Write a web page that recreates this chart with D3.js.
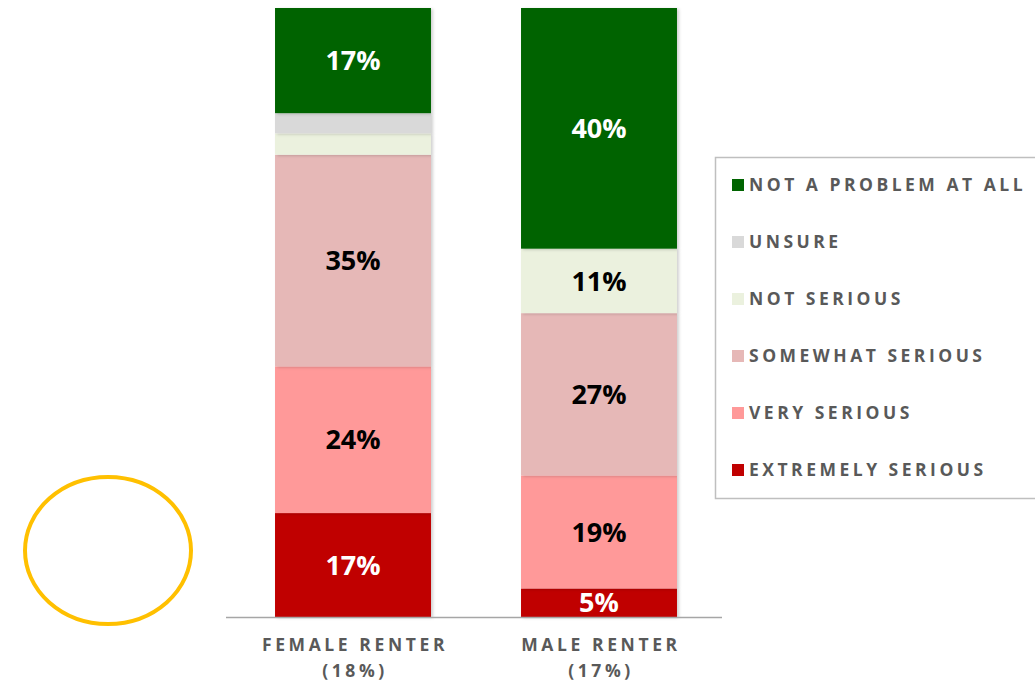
<!DOCTYPE html>
<html>
<head>
<meta charset="utf-8">
<script src="https://cdn.jsdelivr.net/npm/d3@7"></script>
<style>
  body { margin: 0; background: #fff; }
  svg { display: block; }
  text { font-family: "Open Sans", Lato, sans-serif; font-weight: bold; }
</style>
</head>
<body>
<div id="chart"></div>
<script>
// categories on the x axis
const groups = ["FEMALE RENTER", "MALE RENTER"];
const groupShares = ["(18%)", "(17%)"];

// response levels, bottom of the stack first
const levels = ["EXTREMELY SERIOUS", "VERY SERIOUS", "SOMEWHAT SERIOUS", "NOT SERIOUS", "UNSURE", "NOT A PROBLEM AT ALL"];
const levelColors = ["#c00000", "#ff9999", "#e6b8b7", "#ebf1de", "#d9d9d9", "#006400"];
const labelColors = ["#fff", "#000", "#000", "#000", "#000", "#fff"];

// percent per level, one array per group (same order as levels)
const femaleValues = [17, 24, 34.6, 3.5, 3.3, 17.2];
const maleValues = [4.7, 18.6, 26.7, 10.6, 0, 39.6];

// legend goes top to bottom
const legendOrder = ["NOT A PROBLEM AT ALL", "UNSURE", "NOT SERIOUS", "SOMEWHAT SERIOUS", "VERY SERIOUS", "EXTREMELY SERIOUS"];

const width = 1035, height = 683;

const rows = groups.map((g, i) => {
  const vals = i === 0 ? femaleValues : maleValues;
  const row = { group: g };
  levels.forEach((l, j) => row[l] = vals[j]);
  return row;
});

const svg = d3.select("#chart")
  .append("svg")
    .attr("width", width)
    .attr("height", height);

// soft shadow like the office chart
const defs = svg.append("defs");
const f = defs.append("filter").attr("id", "shadow")
  .attr("x", "-10%").attr("y", "-10%").attr("width", "130%").attr("height", "130%");
f.append("feDropShadow")
  .attr("dx", 2).attr("dy", 1).attr("stdDeviation", 1.5)
  .attr("flood-color", "#000").attr("flood-opacity", 0.18);

const x = d3.scaleBand()
  .domain(groups)
  .range([230, 722])
  .paddingInner(0.366)
  .paddingOuter(0.183);

const y = d3.scaleLinear()
  .domain([0, 1])
  .range([617, 8]);

const color = d3.scaleOrdinal().domain(levels).range(levelColors);

const stack = d3.stack()
  .keys(levels)
  .offset(d3.stackOffsetExpand);
const series = stack(rows);

const layers = svg.append("g")
  .selectAll("g")
  .data(series)
  .enter()
  .append("g")
    .attr("fill", d => color(d.key));

layers.selectAll("rect")
  .data(d => d.map(p => Object.assign(p, { key: d.key })))
  .enter()
  .append("rect")
    .attr("x", d => x(d.data.group))
    .attr("width", x.bandwidth())
    .attr("y", d => y(d[1]))
    .attr("height", d => y(d[0]) - y(d[1]))
    .attr("filter", "url(#shadow)");

// value labels, only on the bigger pieces
layers.selectAll("text")
  .data(d => d.filter(p => p.data[d.key] >= 4.5))
  .enter()
  .append("text")
    .attr("x", d => x(d.data.group) + x.bandwidth() / 2)
    .attr("y", d => (y(d[0]) + y(d[1])) / 2)
    .attr("dy", "0.36em")
    .attr("text-anchor", "middle")
    .attr("font-size", 27)
    .attr("fill", d => labelColors[levels.indexOf(d.key)])
    .text(d => Math.round(d.data[d.key]) + "%");

// base line
svg.append("line")
  .attr("x1", 226).attr("x2", 722)
  .attr("y1", y(0) + 0.5).attr("y2", y(0) + 0.5)
  .attr("stroke", "#a6a6a6")
  .attr("stroke-width", 1.5);

// category labels
const cat = svg.append("g")
  .selectAll("text")
  .data(groups)
  .enter()
  .append("text")
    .attr("x", d => x(d) + x.bandwidth() / 2 + 2)
    .attr("y", 651)
    .attr("text-anchor", "middle")
    .attr("font-size", 17.5)
    .attr("letter-spacing", "3.6px")
    .attr("fill", "#595959");
cat.append("tspan").text(d => d);
cat.append("tspan")
  .attr("x", d => x(d) + x.bandwidth() / 2 + 2)
  .attr("dy", 26)
  .text((d, i) => groupShares[i]);

// legend
const legend = svg.append("g");
legend.append("rect")
  .attr("x", 715.5).attr("y", 157.5)
  .attr("width", 340).attr("height", 341)
  .attr("fill", "#fff")
  .attr("stroke", "#bfbfbf")
  .attr("stroke-width", 1.5);

const ly = d3.scalePoint()
  .domain(legendOrder)
  .range([185, 470]);

const item = legend.selectAll(".item")
  .data(legendOrder)
  .enter()
  .append("g")
    .attr("class", "item")
    .attr("transform", d => `translate(732, ${ly(d)})`);
item.append("rect")
  .attr("x", 0).attr("y", -6)
  .attr("width", 12).attr("height", 12)
  .attr("fill", d => color(d));
item.append("text")
  .attr("x", 17)
  .attr("dy", "0.36em")
  .attr("font-size", 17.5)
  .attr("letter-spacing", "3.5px")
  .attr("fill", "#595959")
  .text(d => d);

// yellow circle
svg.append("ellipse")
  .attr("cx", 108).attr("cy", 550.5)
  .attr("rx", 83).attr("ry", 73.5)
  .attr("fill", "none")
  .attr("stroke", "#ffc000")
  .attr("stroke-width", 4);
</script>
</body>
</html>
